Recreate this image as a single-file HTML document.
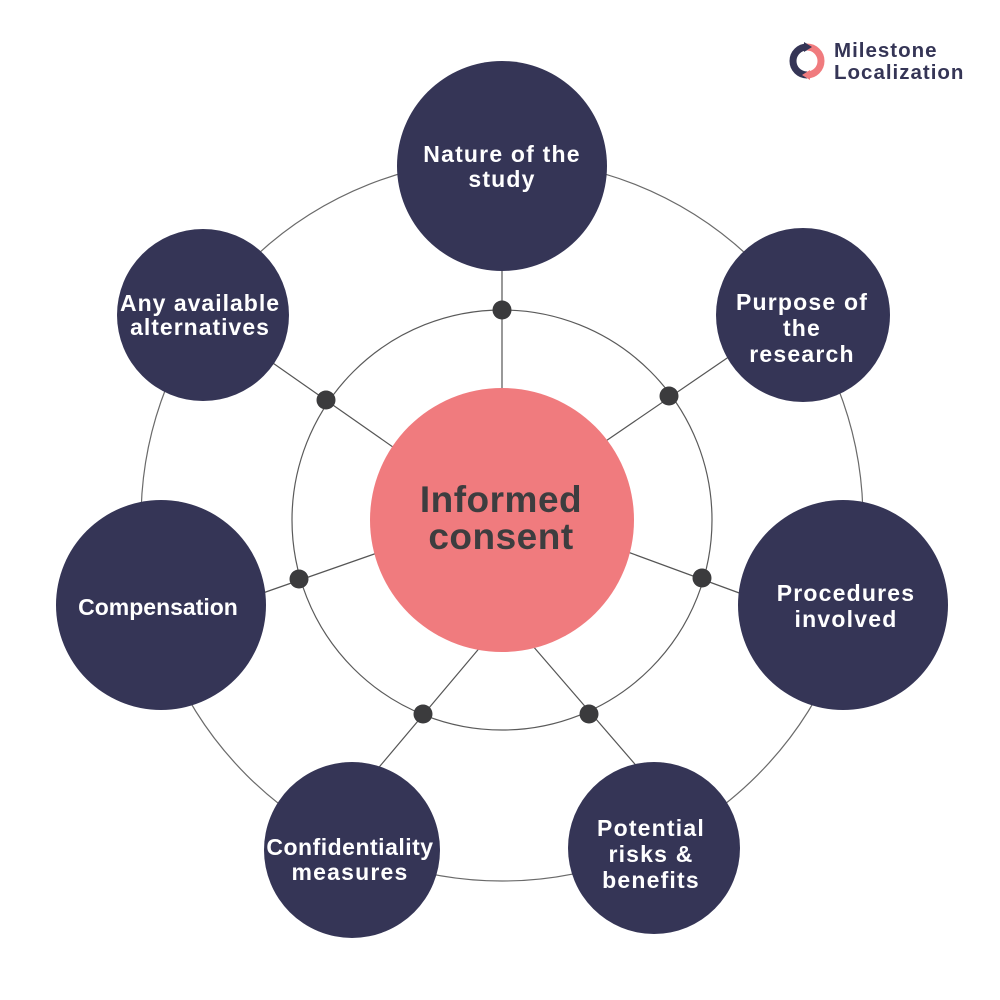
<!DOCTYPE html>
<html>
<head>
<meta charset="utf-8">
<style>
html,body{margin:0;padding:0;background:#ffffff;}
svg{display:block;}
.lbl{font-family:"Liberation Sans",sans-serif;font-weight:bold;fill:#ffffff;font-size:23px;letter-spacing:1.2px;text-anchor:middle;}
.ctr{font-family:"Liberation Sans",sans-serif;font-weight:bold;fill:#3d3d3f;font-size:37px;letter-spacing:0.5px;text-anchor:middle;}
.logo{font-family:"Liberation Sans",sans-serif;font-weight:bold;fill:#353556;font-size:20.5px;letter-spacing:1px;}
</style>
</head>
<body>
<svg width="1000" height="1000" viewBox="0 0 1000 1000" xmlns="http://www.w3.org/2000/svg">
  <rect width="1000" height="1000" fill="#ffffff"/>

  <!-- rings -->
  <circle cx="502" cy="520" r="361" fill="none" stroke="#6a6a6a" stroke-width="1.2"/>
  <circle cx="502" cy="520" r="210" fill="none" stroke="#5a5a5a" stroke-width="1.2"/>

  <!-- spokes -->
  <g stroke="#555555" stroke-width="1.2">
    <line x1="502" y1="265" x2="502" y2="395"/>
    <line x1="270" y1="361" x2="400" y2="452"/>
    <line x1="733" y1="354" x2="600" y2="445"/>
    <line x1="260" y1="594" x2="380" y2="552"/>
    <line x1="742" y1="594" x2="625" y2="551"/>
    <line x1="375" y1="772" x2="482" y2="645"/>
    <line x1="640" y1="770" x2="532" y2="645"/>
  </g>

  <!-- dots -->
  <g fill="#3b3b3d">
    <circle cx="502" cy="310" r="9.5"/>
    <circle cx="326" cy="400" r="9.5"/>
    <circle cx="669" cy="396" r="9.5"/>
    <circle cx="299" cy="579" r="9.5"/>
    <circle cx="702" cy="578" r="9.5"/>
    <circle cx="423" cy="714" r="9.5"/>
    <circle cx="589" cy="714" r="9.5"/>
  </g>

  <!-- center -->
  <circle cx="502" cy="520" r="132" fill="#f07b7e"/>
  <text class="ctr" x="501" y="512">Informed</text>
  <text class="ctr" x="501" y="549">consent</text>

  <!-- outer nodes -->
  <g fill="#353556">
    <circle cx="502" cy="166" r="105"/>
    <circle cx="803" cy="315" r="87"/>
    <circle cx="843" cy="605" r="105"/>
    <circle cx="654" cy="848" r="86"/>
    <circle cx="352" cy="850" r="88"/>
    <circle cx="161" cy="605" r="105"/>
    <circle cx="203" cy="315" r="86"/>
  </g>

  <text class="lbl" x="502" y="162">Nature of the</text>
  <text class="lbl" x="502" y="187">study</text>

  <text class="lbl" x="802" y="310">Purpose of</text>
  <text class="lbl" x="802" y="336">the</text>
  <text class="lbl" x="802" y="362">research</text>

  <text class="lbl" x="846" y="601">Procedures</text>
  <text class="lbl" x="846" y="627">involved</text>

  <text class="lbl" x="651" y="836">Potential</text>
  <text class="lbl" x="651" y="862">risks &amp;</text>
  <text class="lbl" x="651" y="888">benefits</text>

  <text class="lbl" x="350" y="855" style="letter-spacing:0.5px">Confidentiality</text>
  <text class="lbl" x="350" y="880">measures</text>

  <text class="lbl" x="158" y="615" style="letter-spacing:0px">Compensation</text>

  <text class="lbl" x="200" y="311" style="letter-spacing:1px">Any available</text>
  <text class="lbl" x="200" y="335" style="letter-spacing:1px">alternatives</text>

  <!-- logo -->
  <path d="M807 47 A14 14 0 0 0 807 75" fill="none" stroke="#353556" stroke-width="7"/>
  <path d="M807 75 A14 14 0 0 0 807 47" fill="none" stroke="#f07b7e" stroke-width="7"/>
  <polygon points="804,42 812,47 804,52" fill="#353556"/>
  <polygon points="810,70 802,75 810,80" fill="#f07b7e"/>
  <text class="logo" x="834" y="57">Milestone</text>
  <text class="logo" x="834" y="79">Localization</text>
</svg>
</body>
</html>
